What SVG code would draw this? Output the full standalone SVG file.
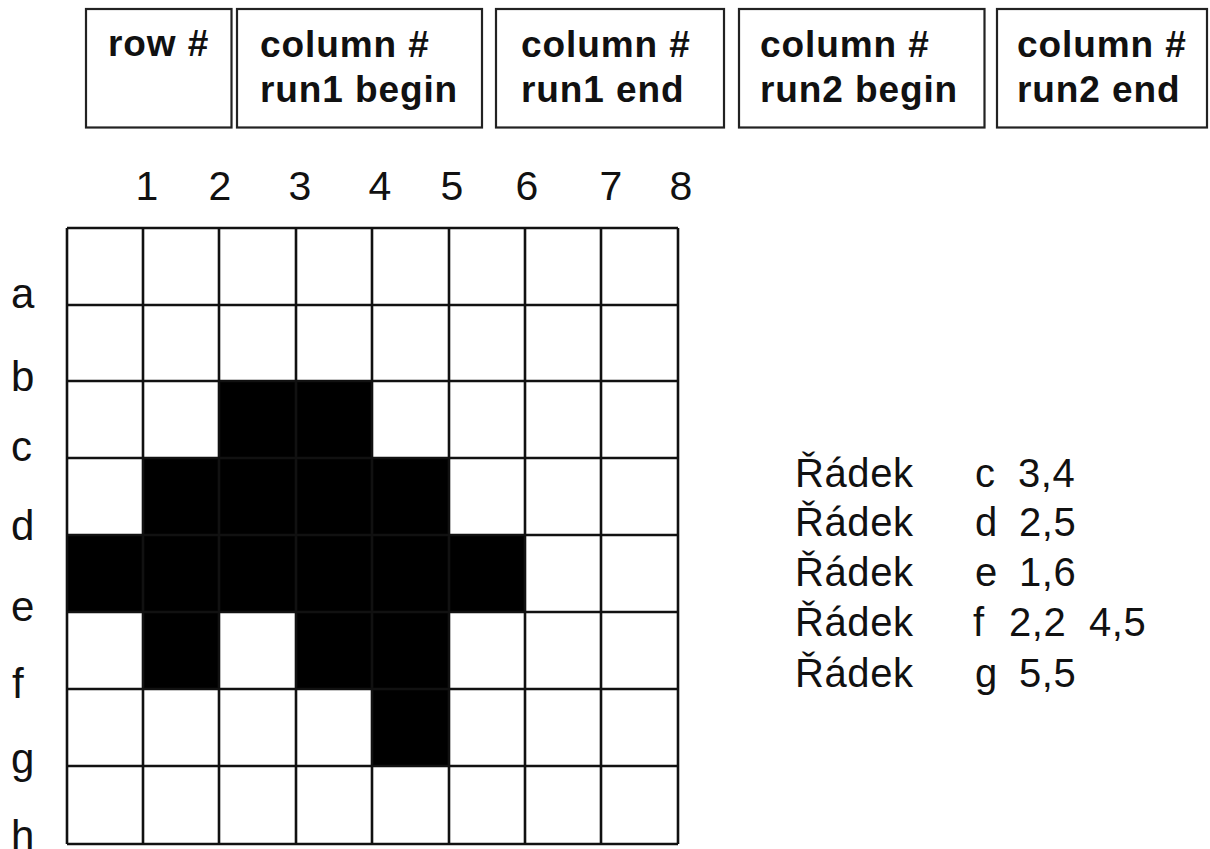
<svg xmlns="http://www.w3.org/2000/svg" width="1210" height="849" viewBox="0 0 1210 849">
<style>
.box{fill:#fff;stroke:#222;stroke-width:2.2}
.hd{font-family:"Liberation Sans",Arial,sans-serif;font-weight:bold;font-size:37px;letter-spacing:0.9px;fill:#111}
.num{font-family:"Liberation Sans",Arial,sans-serif;font-size:41px;fill:#111;text-anchor:middle}
.lt{font-family:"Liberation Sans",Arial,sans-serif;font-size:42px;fill:#111}
.lg{font-family:"Liberation Sans",Arial,sans-serif;font-size:40px;fill:#111;letter-spacing:0.6px}
.gl{stroke:#111;stroke-width:2.6;fill:none}
</style>
<rect width="1210" height="849" fill="#fff"/>
<g id="header">
  <g id="box-row">
    <rect class="box" x="86" y="9" width="145.5" height="118.5"/>
    <text class="hd" x="108" y="56">row #</text>
  </g>
  <g id="box-run1-begin">
    <rect class="box" x="237" y="9" width="245" height="118.5"/>
    <text class="hd" x="260" y="57">column #</text>
    <text class="hd" x="260" y="102">run1 begin</text>
  </g>
  <g id="box-run1-end">
    <rect class="box" x="496" y="9" width="228" height="118.5"/>
    <text class="hd" x="521" y="57">column #</text>
    <text class="hd" x="521" y="102">run1 end</text>
  </g>
  <g id="box-run2-begin">
    <rect class="box" x="739" y="9" width="245.5" height="118.5"/>
    <text class="hd" x="760" y="57">column #</text>
    <text class="hd" x="760" y="102">run2 begin</text>
  </g>
  <g id="box-run2-end">
    <rect class="box" x="997" y="9" width="210" height="118.5"/>
    <text class="hd" x="1017" y="57">column #</text>
    <text class="hd" x="1017" y="102">run2 end</text>
  </g>
</g>
<g id="column-numbers">
  <text class="num" x="147" y="200">1</text>
  <text class="num" x="220" y="200">2</text>
  <text class="num" x="300" y="200">3</text>
  <text class="num" x="380" y="200">4</text>
  <text class="num" x="452" y="200">5</text>
  <text class="num" x="527" y="200">6</text>
  <text class="num" x="611" y="200">7</text>
  <text class="num" x="681" y="200">8</text>
</g>
<g id="row-letters">
  <text class="lt" x="11" y="308">a</text>
  <text class="lt" x="11" y="391">b</text>
  <text class="lt" x="11" y="461">c</text>
  <text class="lt" x="11" y="540">d</text>
  <text class="lt" x="11" y="621">e</text>
  <text class="lt" x="12" y="698">f</text>
  <text class="lt" x="11" y="773">g</text>
  <text class="lt" x="11" y="850">h</text>
</g>
<g id="grid">
  <g id="filled-cells" fill="#000">
    <rect x="219" y="381" width="153" height="77"/>
    <rect x="143" y="458" width="306" height="77"/>
    <rect x="67" y="535" width="458" height="77"/>
    <rect x="143" y="612" width="76" height="77"/>
    <rect x="296" y="612" width="153" height="77"/>
    <rect x="372" y="689" width="77" height="77"/>
  </g>
  <path class="gl" d="M67 228V844M143 228V844M219 228V844M296 228V844M372 228V844M449 228V844M525 228V844M601 228V844M678 228V844"/>
  <path class="gl" d="M67 228H678M67 305H678M67 381H678M67 458H678M67 535H678M67 612H678M67 689H678M67 766H678M67 844H678"/>
</g>
<g id="legend">
  <text class="lg" y="487"><tspan x="795">Řádek</tspan><tspan x="975">c</tspan><tspan x="1018">3,4</tspan></text>
  <text class="lg" y="536"><tspan x="795">Řádek</tspan><tspan x="975">d</tspan><tspan x="1019">2,5</tspan></text>
  <text class="lg" y="586"><tspan x="795">Řádek</tspan><tspan x="975">e</tspan><tspan x="1019">1,6</tspan></text>
  <text class="lg" y="636"><tspan x="795">Řádek</tspan><tspan x="973">f</tspan><tspan x="1009">2,2</tspan><tspan x="1089">4,5</tspan></text>
  <text class="lg" y="687"><tspan x="795">Řádek</tspan><tspan x="975">g</tspan><tspan x="1019">5,5</tspan></text>
</g>
</svg>
